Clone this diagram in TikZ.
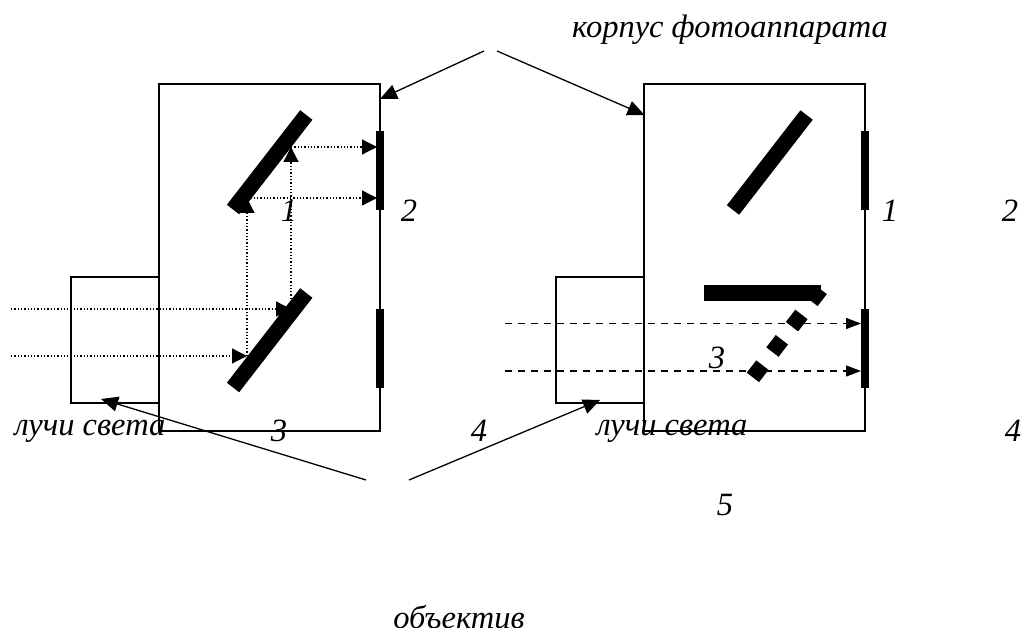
\documentclass[tikz,border=0pt]{standalone}
\usepackage{fontspec}
\setmainfont{Liberation Serif}
\usetikzlibrary{arrows.meta}
\tikzset{
  label/.style={font=\fontsize{32.5}{36}\selectfont\itshape, inner sep=0pt},
  body/.style={draw, line width=1.2pt},
  mirror/.style={line width=15.5pt},
  film/.style={line width=7.5pt},
  ray/.style={-{Triangle[length=15pt,width=15pt]}, line width=1.3pt, dotted},
  beam/.style={-{Triangle[length=15pt,width=11pt]}, line width=1.3pt, dash pattern=on 7pt off 6pt},
  pointer/.style={-{Triangle[length=17pt,width=15pt]}, line width=1.3pt},
}
\begin{document}
\begin{tikzpicture}[x=1pt,y=-1pt]
  \useasboundingbox (0,0) rectangle (1021,628);
  % left camera
  \draw[body] (159,84) rectangle (380,431);
  \draw[body] (159,277) -- (71,277) -- (71,403) -- (159,403);
  \draw[mirror] (306.3,115) -- (233,209.5);
  \draw[mirror] (306.3,293) -- (233,387.5);
  \draw[film] (380,131) -- (380,210);
  \draw[film] (380,309) -- (380,388);
  \coordinate (a1) at (11,309);
  \coordinate (a2) at (291,309);
  \coordinate (a3) at (291,147);
  \coordinate (a4) at (377,147);
  \coordinate (b1) at (11,356);
  \coordinate (b2) at (247,356);
  \coordinate (b3) at (247,198);
  \coordinate (b4) at (377,198);
  \draw[ray] (a1) -- (a2);
  \draw[ray] (a2) -- (a3);
  \draw[ray] (a3) -- (a4);
  \draw[ray] (b1) -- (b2);
  \draw[ray] (b2) -- (b3);
  \draw[ray] (b3) -- (b4);
  % right camera
  \draw[body] (644,84) rectangle (865,431);
  \draw[body] (644,277) -- (556,277) -- (556,403) -- (644,403);
  \draw[mirror] (806.6,115) -- (733,210);
  \draw[mirror] (703.6,293) -- (821,293);
  \draw[mirror, dash pattern=on 15.5pt off 16.5pt] (752.9,377.4) -- (820.7,289.4);
  \draw[film] (865,131) -- (865,210);
  \draw[film] (865,309) -- (865,388);
  \coordinate (c1) at (505,323.5);
  \coordinate (c2) at (861,323.5);
  \coordinate (d1) at (505,371);
  \coordinate (d2) at (861,371);
  \draw[beam] (c1) -- (c2);
  \draw[beam] (d1) -- (d2);
  % labels
  \node[label] (body) at (730,30) {корпус фотоаппарата};
  \node[label] (lens) at (459,617) {объектив};
  \node[label] (raysl) at (90,431) {лучи света};
  \node[label] (raysr) at (672,431) {лучи света};
  \node[label] (l1) at (289,211) {1};
  \node[label] (l2) at (409,211) {2};
  \node[label] (l3) at (279,431) {3};
  \node[label] (l4) at (479,431) {4};
  \node[label] (r1) at (890,211) {1};
  \node[label] (r2) at (1010,211) {2};
  \node[label] (r3) at (717,358) {3};
  \node[label] (r4) at (1013,431) {4};
  \node[label] (r5) at (725,505) {5};
  % pointers
  \coordinate (p1) at (484,51);
  \coordinate (p2) at (497,51);
  \coordinate (p3) at (366,480);
  \coordinate (p4) at (409,480);
  \coordinate (t1) at (380,99);
  \coordinate (t2) at (644.5,115);
  \coordinate (t3) at (101,399);
  \coordinate (t4) at (600,400);
  \draw[pointer] (p1) -- (t1);
  \draw[pointer] (p2) -- (t2);
  \draw[pointer] (p3) -- (t3);
  \draw[pointer] (p4) -- (t4);
\end{tikzpicture}
\end{document}
